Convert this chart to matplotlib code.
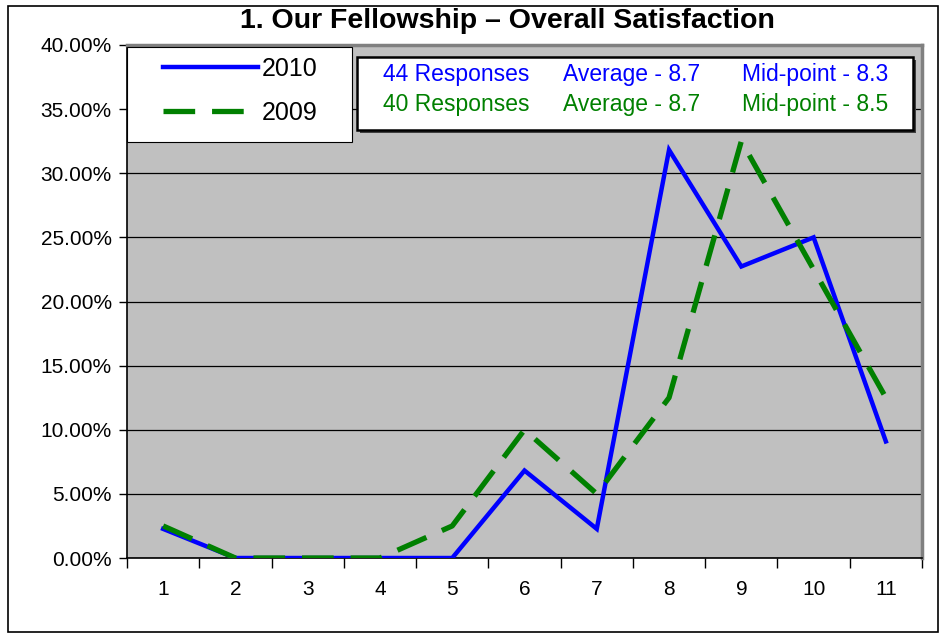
import matplotlib.pyplot as plt
from matplotlib.patches import Rectangle
from matplotlib.ticker import FixedLocator, PercentFormatter

plt.rcParams['font.family'] = ['Liberation Sans', 'DejaVu Sans']

# survey scores 1..11, share of responses (%)
scores = list(range(1, 12))
pct_2010 = [2.27, 0, 0, 0, 0, 6.82, 2.27, 31.82, 22.73, 25.0, 9.09]
pct_2009 = [2.5, 0, 0, 0, 2.5, 10.0, 5.0, 12.5, 32.5, 22.5, 12.5]

stats_2010 = ["44 Responses", "Average - 8.7", "Mid-point - 8.3"]
stats_2009 = ["40 Responses", "Average - 8.7", "Mid-point - 8.5"]

W, H = 945, 635
fig = plt.figure(figsize=(W / 100, H / 100), dpi=100)
ax = fig.add_axes([127 / W, 1 - 558 / H, (922 - 127) / W, (558 - 45) / H])
ax.set_facecolor('#c0c0c0')

l10, = ax.plot(scores, pct_2010, color='#0000ff', lw=3.2, solid_joinstyle='miter', zorder=3)
l09, = ax.plot(scores, pct_2009, color='#008000', lw=3.8, dashes=(6, 3.2), zorder=4)

ax.set_xlim(0.5, 11.5)
ax.set_ylim(0, 40)
ax.yaxis.set_major_locator(FixedLocator([i * 5 for i in range(9)]))
ax.yaxis.set_major_formatter(PercentFormatter(decimals=2))
ax.grid(axis='y', color='black', lw=0.9)
ax.set_axisbelow(True)

# ticks between categories, labels at the categories
ax.set_xticks([x + 0.5 for x in range(0, 12)])
ax.set_xticklabels([])
ax.set_xticks(scores, minor=True)
ax.set_xticklabels([str(s) for s in scores], minor=True)
ax.tick_params(axis='x', which='major', length=7, width=1, direction='out')
ax.tick_params(axis='x', which='minor', length=0, pad=16, labelsize=15)
ax.tick_params(axis='y', length=6, width=1, pad=5, labelsize=15)

for side in ['left', 'bottom']:
    ax.spines[side].set_color('black')
    ax.spines[side].set_linewidth(1.2)
for side in ['top', 'right']:
    ax.spines[side].set_color('#808080')
    ax.spines[side].set_linewidth(2.5)

fig.text(507 / W, 1 - 21 / H, "1. Our Fellowship \u2013 Overall Satisfaction",
         ha='center', va='center', fontsize=20.5, fontweight='bold')

# legend: white box, frameless legend inside
fig.patches.append(Rectangle((127 / W, 1 - 142 / H), (352 - 127) / W, (142 - 47) / H,
                             transform=fig.transFigure, facecolor='white', edgecolor='black',
                             lw=0.8, zorder=5))
leg = fig.legend([l10, l09], ['2010', '2009'], loc='upper left',
                 bbox_to_anchor=(163 / W, 1 - 57 / H), fontsize=18,
                 handlelength=3.8, handletextpad=0.15, labelspacing=0.8,
                 borderpad=0, borderaxespad=0, frameon=False)
leg.set_zorder(6)

# stats box with shadow
bx0, by0, bx1, by1 = 357, 57, 913, 130
fig.patches.append(Rectangle(((bx0 + 3) / W, 1 - (by1 + 3) / H), (bx1 - bx0) / W, (by1 - by0) / H,
                             transform=fig.transFigure, facecolor='#404040', edgecolor='none', zorder=5))
fig.patches.append(Rectangle((bx0 / W, 1 - by1 / H), (bx1 - bx0) / W, (by1 - by0) / H,
                             transform=fig.transFigure, facecolor='white', edgecolor='black',
                             lw=1.8, zorder=6))
col_x = [383, 563, 742]
for txt, cx in zip(stats_2010, col_x):
    fig.text(cx / W, 1 - 75 / H, txt, color='#0000ff', fontsize=16.5, va='center', zorder=7)
for txt, cx in zip(stats_2009, col_x):
    fig.text(cx / W, 1 - 105 / H, txt, color='#008000', fontsize=16.5, va='center', zorder=7)

# outer frame
fig.patches.append(Rectangle((8 / W, 3 / H), (938 - 8) / W, (H - 9) / H, transform=fig.transFigure,
                             fill=False, edgecolor='black', lw=1.2))

fig.savefig('out.png', dpi=100)
